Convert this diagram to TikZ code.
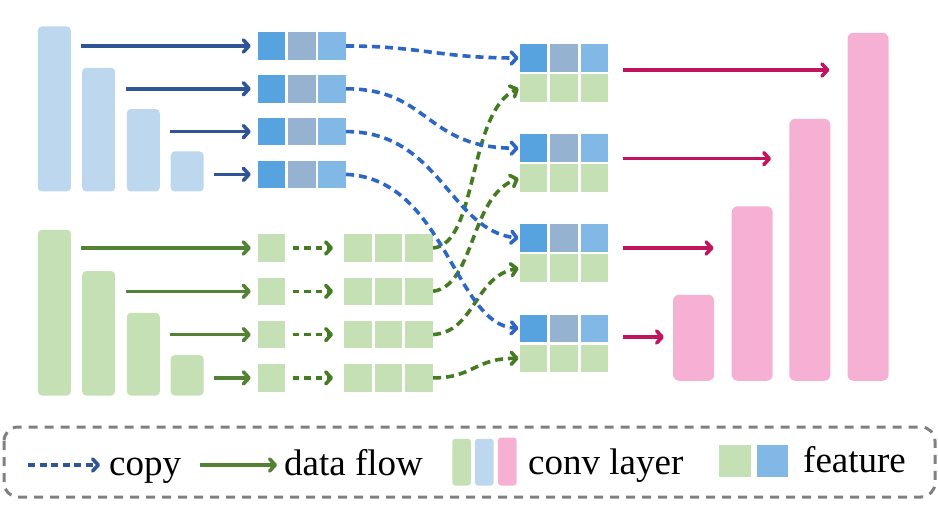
\documentclass[tikz,border=0pt]{standalone}
\usepackage{fontspec}
\setmainfont{Liberation Serif}
\usetikzlibrary{arrows.meta,calc}
\definecolor{barB}{HTML}{BDD7EE}
\definecolor{barG}{HTML}{C5E0B4}
\definecolor{barP}{HTML}{F5B0D4}
\definecolor{sqB1}{HTML}{56A3DF}
\definecolor{sqB2}{HTML}{95B2D0}
\definecolor{sqB3}{HTML}{82B8E6}
\definecolor{arrB}{HTML}{2F5597}
\definecolor{dashB}{HTML}{2E66C4}
\definecolor{arrG}{HTML}{548235}
\definecolor{dashG}{HTML}{457C23}
\definecolor{arrP}{HTML}{C2135F}
\definecolor{legGray}{HTML}{808080}
\tikzset{
  bar/.style={rectangle, inner sep=0pt, rounded corners=4pt, anchor=south},
  bluebar/.style={bar, fill=barB, minimum width=33pt},
  greenbar/.style={bar, fill=barG, minimum width=33pt},
  pinkbar/.style={bar, fill=barP, minimum width=41pt, rounded corners=6pt},
  sq/.style={rectangle, inner sep=0pt, minimum width=27.5pt, minimum height=27.5pt},
  sqa/.style={sq, fill=sqB1},
  sqb/.style={sq, fill=sqB2},
  sqc/.style={sq, fill=sqB3},
  sqg/.style={sq, fill=barG},
  tip/.style={-{Straight Barb[length=5.5pt,width=12pt,round]}},
  flowB/.style={tip, draw=arrB, line width=3.6pt, shorten >=7pt},
  flowG/.style={tip, draw=arrG, line width=3.6pt, shorten >=7pt},
  flowP/.style={tip, draw=arrP, line width=3.6pt},
  copyB/.style={tip, draw=dashB, line width=3.6pt, dash pattern=on 8pt off 5pt, shorten >=1pt},
  copyG/.style={tip, draw=dashG, line width=3.6pt, dash pattern=on 8pt off 5pt, shorten >=1pt},
  legtext/.style={anchor=base west, inner sep=0pt, font=\fontsize{37}{40}\selectfont}
}
\begin{document}
\begin{tikzpicture}[x=1pt,y=-1pt]
\useasboundingbox (0,0) rectangle (938,508);

% blue bars
\node[bluebar, minimum height=165pt] (bb1) at (54.35,191.7) {};
\node[bluebar, minimum height=123.7pt] (bb2) at (98.65,191.7) {};
\node[bluebar, minimum height=82.4pt] (bb3) at (143.35,191.7) {};
\node[bluebar, minimum height=40pt] (bb4) at (187.15,191.7) {};
% green bars
\node[greenbar, minimum height=165.7pt] (gb1) at (54.35,395.7) {};
\node[greenbar, minimum height=124.4pt] (gb2) at (98.65,395.7) {};
\node[greenbar, minimum height=82.7pt] (gb3) at (143.35,395.7) {};
\node[greenbar, minimum height=40.4pt] (gb4) at (187.15,395.7) {};
% pink bars
\node[pinkbar, minimum height=86pt] (pk1) at (693.65,381) {};
\node[pinkbar, minimum height=174.5pt] (pk2) at (752.2,381) {};
\node[pinkbar, minimum height=262pt] (pk3) at (809.8,381) {};
\node[pinkbar, minimum height=348pt] (pk4) at (868,381) {};

% blue feature squares
\foreach \i/\y in {1/46,2/88.8,3/131.6,4/174.4}{
  \node[sqa] (bA\i) at (271.7,\y) {};
  \node[sqb] (bB\i) at (301.9,\y) {};
  \node[sqc] (bC\i) at (332.1,\y) {};
}
% green squares
\foreach \i/\y in {1/248,2/291.3,3/334.6,4/377.9}{
  \node[sqg] (gS\i) at (271.7,\y) {};
  \node[sqg] (gA\i) at (358,\y) {};
  \node[sqg] (gB\i) at (388.7,\y) {};
  \node[sqg] (gC\i) at (419.2,\y) {};
}
% merged groups
\foreach \i/\y in {1/58,2/148.2,3/238.2,4/328.3}{
  \node[sqa] (mA\i) at (533.5,\y) {};
  \node[sqb] (mB\i) at (563.8,\y) {};
  \node[sqc] (mC\i) at (594.7,\y) {};
  \node[sqg] (nA\i) at (533.5,\y+30) {};
  \node[sqg] (nB\i) at (563.8,\y+30) {};
  \node[sqg] (nC\i) at (594.7,\y+30) {};
}

% arrow start coordinates
\coordinate (sb1) at (81,46);
\coordinate (sb2) at (125.7,88.8);
\coordinate (sb3) at (169.7,131.6);
\coordinate (sb4) at (214.3,174.4);
\coordinate (sg1) at (81,248);
\coordinate (sg2) at (125.7,291.3);
\coordinate (sg3) at (169.7,334.6);
\coordinate (sg4) at (214.3,377.9);
\coordinate (sp1) at (622.7,70);
\coordinate (sp2) at (622.7,158.7);
\coordinate (sp3) at (622.7,248);
\coordinate (sp4) at (622.7,337);

\foreach \i in {1,2,3,4}{
  \draw[flowB] (sb\i) -- (bA\i.west);
  \draw[flowG] (sg\i) -- (gS\i.west);
  \draw[tip, draw=dashG, line width=3.6pt, dash pattern=on 6.5pt off 5pt, shorten <=7pt, shorten >=11pt] (gS\i.east) -- (gA\i.west);
}

% pink arrows
\draw[flowP, shorten >=18pt] (sp1) -- (sp1 -| pk4.west);
\draw[flowP, shorten >=18pt] (sp2) -- (sp2 -| pk3.west);
\draw[flowP, shorten >=18pt] (sp3) -- (sp3 -| pk2.west);
\draw[flowP, shorten >=9pt] (sp4) -- (sp4 -| pk1.west);

% green curves
\draw[copyG] (gC1.east) .. controls +(45,-4) and +(-52,24) .. (nA1.west);
\draw[copyG] (gC2.east) .. controls +(42,-6) and +(-50,18) .. (nA2.west);
\draw[copyG] (gC3.east) .. controls +(42,-3) and +(-45,8) .. (nA3.west);
\draw[copyG] (gC4.east) .. controls +(40,0) and +(-45,0) .. (nA4.west);
% blue curves
\draw[copyB] (bC1.east) .. controls +(74,0) and +(-80,0) .. (mA1.west);
\draw[copyB] (bC2.east) .. controls +(84,0) and +(-95,0) .. (mA2.west);
\draw[copyB] (bC3.east) .. controls +(94,0) and +(-70,-8) .. (mA3.west);
\draw[copyB] (bC4.east) .. controls +(99,4) and +(-65,-3) .. (mA4.west);

% legend
\draw[legGray, line width=3pt, dash pattern=on 9pt off 7pt, rounded corners=14pt] (4,427) rectangle (935,497);
\coordinate (lc1) at (28,465);
\coordinate (lc2) at (100,465);
\coordinate (ld1) at (200,465);
\coordinate (ld2) at (277,465);
\draw[tip, draw=arrB, line width=3.6pt, dash pattern=on 7pt off 4.5pt] (lc1) -- (lc2);
\draw[tip, draw=arrG, line width=3.6pt] (ld1) -- (ld2);
\node[legtext] (tcopy) at (109,475) {copy};
\node[legtext] (tflow) at (284,475) {data flow};
\node[bar, fill=barG, minimum width=18.7pt, minimum height=46.7pt, rounded corners=3pt] (lg) at (461.6,485.7) {};
\node[bar, fill=barB, minimum width=18.7pt, minimum height=46.7pt, rounded corners=3pt] (lb) at (484.3,485.7) {};
\node[bar, fill=barP, minimum width=18.7pt, minimum height=48pt, rounded corners=3pt] (lp) at (507.3,485.7) {};
\node[legtext] (tconv) at (528,474) {conv layer};
\node[sq, fill=barG, minimum width=31.7pt, minimum height=31.7pt] (lfg) at (734.8,460.9) {};
\node[sq, fill=sqB3, minimum width=31.7pt, minimum height=31.7pt] (lfb) at (772.5,460.9) {};
\node[legtext] (tfeat) at (803,472) {feature};
\end{tikzpicture}
\end{document}
